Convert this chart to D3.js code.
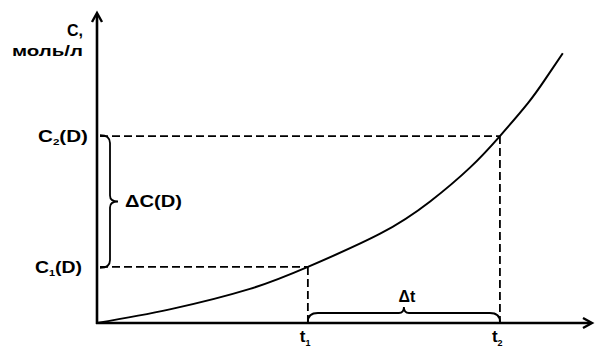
<!DOCTYPE html>
<html>
<head>
<meta charset="utf-8">
<script src="https://cdn.jsdelivr.net/npm/d3@7/dist/d3.min.js"></script>
<style>
  html, body { margin: 0; padding: 0; background: #fff; }
  svg { display: block; }
  text { font-family: "Liberation Sans", Arial, sans-serif; font-weight: bold; fill: #000; }
</style>
</head>
<body>
<svg id="chart" width="595" height="347"></svg>
<script>
// ---- data (arbitrary units) ----
const curveT = [0, 14.7, 30.9, 42.6, 57.2, 67.3, 75.4, 81.4, 87.1, 90.5, 94.1];
const curveC = [0, 4.4, 11.0, 18.1, 28.8, 39.2, 50.2, 60.3, 71.0, 78.5, 87.0];
const timeMarks = [42.6, 81.4];          // t1, t2
const timeLabels = ["1", "2"];            // subscripts for t
const concMarks = [18.1, 60.3];          // C1(D), C2(D)
const concLabels = ["1", "2"];
const axisTitle = ["C,", "моль/л"];
const deltaCLabel = "ΔC(D)";
const deltaTLabel = "Δt";

// ---- layout ----
const svg = d3.select("#chart");
const x = d3.scaleLinear().domain([0, 100]).range([97, 592]);
const y = d3.scaleLinear().domain([0, 100]).range([323, 13]);

const x0 = x(0), y0 = y(0);

// axes
svg.append("line").attr("x1", x0).attr("y1", y0 + 1).attr("x2", x0).attr("y2", y(100) + 1)
  .attr("stroke", "#000").attr("stroke-width", 2.6);
svg.append("line").attr("x1", x0 - 1).attr("y1", y0).attr("x2", x(100) - 1).attr("y2", y0)
  .attr("stroke", "#000").attr("stroke-width", 2.4);
// arrowheads
svg.append("path")
  .attr("d", `M${x0 - 5},${y(100) + 9} L${x0},${y(100)} L${x0 + 5},${y(100) + 9}`)
  .attr("fill", "none").attr("stroke", "#000").attr("stroke-width", 2.4).attr("stroke-linejoin", "miter");
svg.append("path")
  .attr("d", `M${x(100) - 9},${y0 - 5} L${x(100)},${y0} L${x(100) - 9},${y0 + 5}`)
  .attr("fill", "none").attr("stroke", "#000").attr("stroke-width", 2.4);

// dashed guide lines
const dash = "8,4";
concMarks.forEach((c, i) => {
  svg.append("line").attr("x1", x0 + 3).attr("y1", y(c)).attr("x2", x(timeMarks[i])).attr("y2", y(c))
    .attr("stroke", "#000").attr("stroke-width", 1.8).attr("stroke-dasharray", dash);
  svg.append("line").attr("x1", x(timeMarks[i])).attr("y1", y(c)).attr("x2", x(timeMarks[i])).attr("y2", y0)
    .attr("stroke", "#000").attr("stroke-width", 1.8).attr("stroke-dasharray", dash);
});

// curve
const pts = curveT.map((t, i) => [t, curveC[i]]);
svg.append("path")
  .attr("d", d3.line().x(d => x(d[0])).y(d => y(d[1])).curve(d3.curveNatural)(pts))
  .attr("fill", "none").attr("stroke", "#000").attr("stroke-width", 2);

// vertical brace (ΔC)
{
  const top = y(concMarks[1]) - 1, bot = y(concMarks[0]) + 1, mid = (top + bot) / 2;
  const xa = x0 + 3, xb = x0 + 13, xt = x0 + 21;
  const d = `M${xa},${top} Q${xb},${top} ${xb},${top + 8} L${xb},${mid - 6} Q${xb},${mid} ${xt},${mid}` +
            ` Q${xb},${mid} ${xb},${mid + 6} L${xb},${bot - 8} Q${xb},${bot} ${xa},${bot}`;
  svg.append("path").attr("d", d).attr("fill", "none").attr("stroke", "#000").attr("stroke-width", 1.8);
  svg.append("text").attr("x", xt + 7).attr("y", mid + 6).attr("font-size", 16)
    .attr("textLength", 57).attr("lengthAdjust", "spacingAndGlyphs").text(deltaCLabel);
}

// horizontal brace (Δt)
{
  const l = x(timeMarks[0]), r = x(timeMarks[1]), mid = (l + r) / 2 + 0;
  const yb = y0 - 10, yt = y0 - 16;
  const d = `M${l},${y0 - 1} Q${l},${yb} ${l + 10},${yb} L${mid - 5},${yb} Q${mid},${yb} ${mid},${yt}` +
            ` Q${mid},${yb} ${mid + 5},${yb} L${r - 10},${yb} Q${r},${yb} ${r},${y0 - 1}`;
  svg.append("path").attr("d", d).attr("fill", "none").attr("stroke", "#000").attr("stroke-width", 1.8);
  svg.append("text").attr("x", mid + 3).attr("y", yt - 5).attr("text-anchor", "middle").attr("font-size", 16)
    .text(deltaTLabel);
}

// t labels
timeMarks.forEach((t, i) => {
  const tx = svg.append("text").attr("x", x(t) - 8).attr("y", 342).attr("font-size", 17);
  tx.append("tspan").text("t");
  tx.append("tspan").attr("font-size", 9).attr("dy", 4).text(timeLabels[i]);
});

// C labels
concMarks.forEach((c, i) => {
  const tx = svg.append("text").attr("x", i === 1 ? 38 : 35).attr("y", y(c) + 6).attr("font-size", 16)
    .attr("textLength", i === 1 ? 50 : 47).attr("lengthAdjust", "spacingAndGlyphs");
  tx.append("tspan").text("C");
  tx.append("tspan").attr("font-size", 9).attr("dy", 3).text(concLabels[i]);
  tx.append("tspan").attr("dy", -3).text("(D)");
});

// axis title
svg.append("text").attr("x", 83).attr("y", 36).attr("text-anchor", "end").attr("font-size", 16).text(axisTitle[0]);
svg.append("text").attr("x", 12).attr("y", 56).attr("font-size", 15)
  .attr("textLength", 71).attr("lengthAdjust", "spacingAndGlyphs").text(axisTitle[1]);
</script>
</body>
</html>
